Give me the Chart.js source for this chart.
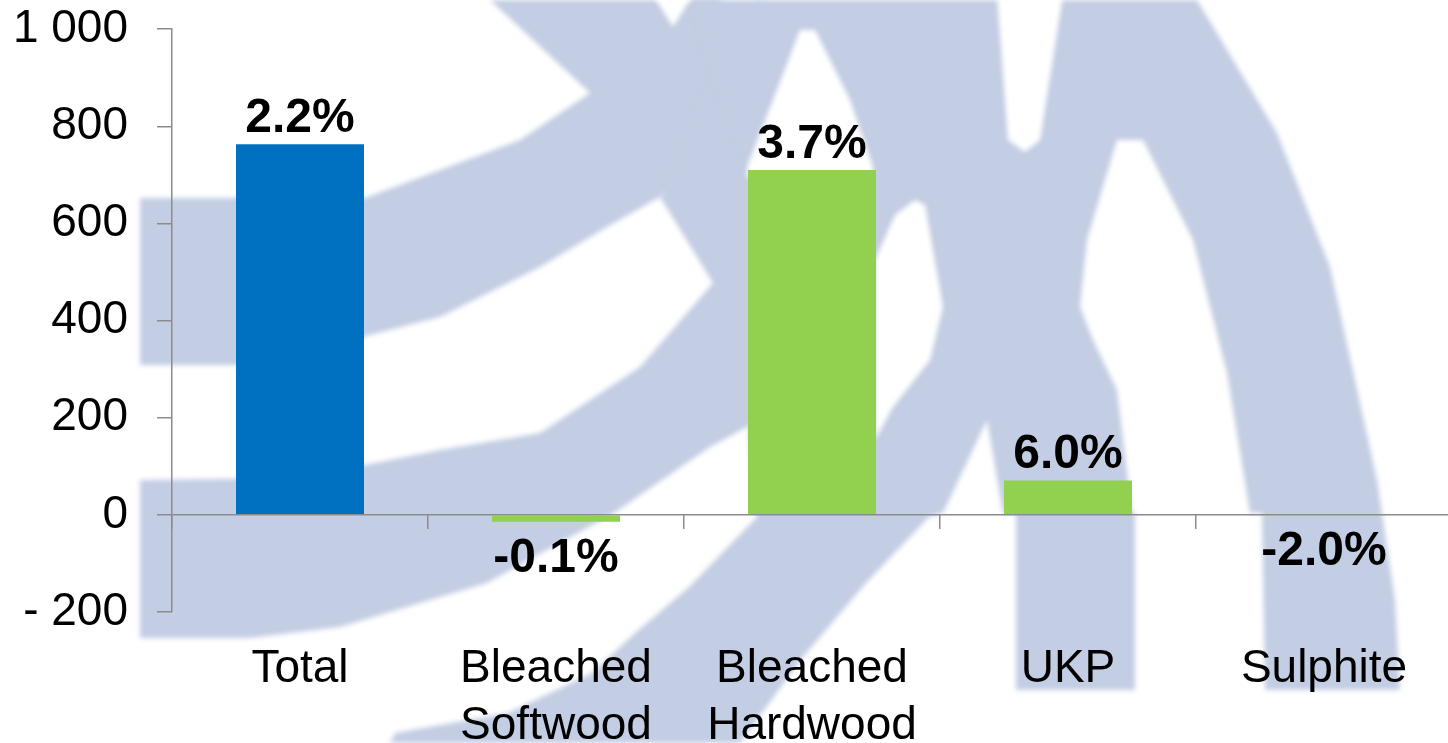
<!DOCTYPE html>
<html>
<head>
<meta charset="utf-8">
<script src="https://cdn.jsdelivr.net/npm/chart.js@4.4.1/dist/chart.umd.min.js"></script>
<style>
  html, body { margin: 0; padding: 0; background: #fff; overflow: hidden; }
  #wrap { width: 1452px; height: 743px; position: relative; }
</style>
</head>
<body>
<div id="wrap"><canvas id="chart"></canvas></div>
<script>
// Pulp demand change by grade, with growth rates on top of the bars
const categories = [['Total'], ['Bleached', 'Softwood'], ['Bleached', 'Hardwood'], ['UKP'], ['Sulphite']];
const volumes = [763, -14, 710, 71, -1];
const growthLabels = ['2.2%', '-0.1%', '3.7%', '6.0%', '-2.0%'];
const barColors = ['#0070C0', '#92D050', '#92D050', '#92D050', '#92D050'];
const yMin = -200;
const yMax = 1000;
const yStep = 200;

const FONT = '"Liberation Sans", Arial, sans-serif';
const AXIS_GREY = '#8c8c8c';

// "1 000", "- 200" style
function formatTick(v) {
    if (v === 0) return '0';
    const s = Math.abs(v).toString().replace(/\B(?=(\d{3})+(?!\d))/g, ' ');
    return v < 0 ? '- ' + s : s;
}

// faded company logo behind the chart (decoration only, canvas pixels)
const logoFill = [
    // left upper arm
    [[140,198],[365,198],[440,170],[520,140],[590,93],[490,0],[720,0],[720,150],[660,197],[607,227],[540,267],[440,317],[370,335],[260,365],[140,365]],
    // left lower arm
    [[140,480],[300,478],[440,450],[540,433],[640,367],[713,283],[660,197],[700,100],[760,0],[780,200],[760,420],[710,447],[614,513],[487,583],[340,627],[250,638],[140,638]],
    // main body, right bands and lower sweep
    [[690,0],[1197,0],[1277,133],[1330,267],[1377,480],[1395,600],[1400,690],[1265,690],[1262,513],[1250,513],
     [1227,373],[1193,240],[1143,140],[1117,140],[1087,240],[1080,307],[1093,340],[1117,390],[1132,513],[1135,513],
     [1135,690],[1016,690],[1016,513],[1003,513],[987,420],[943,513],[929,517],[866,583],[803,657],[740,743],
     [390,743],[395,733],[508,713],[592,673],[635,633],[689,587],[757,517],[749,440],[749,170],[720,100]]
];
const logoHoles = [
    [[800,30],[815,30],[850,100],[873,167],[873,178],[747,178],[747,167],[773,100]],
    [[875,440],[893,407],[930,360],[943,307],[925,205],[915,200],[895,215],[875,260]],
    [[997,-5],[1063,-5],[1040,140],[1025,152],[1008,140]],
    [[653,-5],[693,-5],[673,27]]
];

function fillPoly(ctx, pts) {
    ctx.beginPath();
    pts.forEach((p, i) => (i ? ctx.lineTo(p[0], p[1]) : ctx.moveTo(p[0], p[1])));
    ctx.closePath();
    ctx.fill();
}

const watermark = {
    id: 'watermark',
    beforeDraw(chart) {
        const ctx = chart.ctx;
        ctx.save();
        ctx.fillStyle = '#fff';
        ctx.fillRect(0, 0, chart.width, chart.height);
        ctx.filter = 'blur(2.5px)';
        ctx.fillStyle = '#c3cde3';
        logoFill.forEach(p => fillPoly(ctx, p));
        ctx.fillStyle = '#fff';
        logoHoles.forEach(p => fillPoly(ctx, p));
        ctx.restore();
    }
};

// percentage labels above / below each bar
const barLabels = {
    id: 'barLabels',
    afterDatasetsDraw(chart) {
        const ctx = chart.ctx;
        const meta = chart.getDatasetMeta(0);
        ctx.save();
        ctx.font = 'bold 48px ' + FONT;
        ctx.fillStyle = '#000';
        ctx.textAlign = 'center';
        ctx.textBaseline = 'alphabetic';
        meta.data.forEach((bar, i) => {
            const y = volumes[i] >= 0 ? bar.y - 12 : bar.y + 50;
            ctx.fillText(growthLabels[i], bar.x, y);
        });
        ctx.restore();
    }
};

const ctx = document.getElementById('chart').getContext('2d');
new Chart(ctx, {
    type: 'bar',
    data: {
        labels: categories,
        datasets: [{
            data: volumes,
            backgroundColor: barColors,
            borderWidth: 0,
            categoryPercentage: 1,
            barPercentage: 0.5
        }]
    },
    options: {
        responsive: true,
        maintainAspectRatio: false,
        animation: false,
        layout: { padding: { top: 0, right: 0, left: 0, bottom: 0 } },
        plugins: {
            legend: { display: false },
            tooltip: { enabled: false }
        },
        scales: {
            x: {
                type: 'category',
                position: 'bottom',
                offset: true,
                grid: { display: false, drawTicks: false, offset: true },
                border: { display: false },
                ticks: {
                    color: '#000',
                    padding: 29,
                    maxRotation: 0,
                    autoSkip: false,
                    font: { family: FONT, size: 46, lineHeight: 1.24 }
                },
                afterFit(scale) { scale.height = 131; }
            },
            xZero: {
                type: 'category',
                axis: 'x',
                labels: categories,
                position: { y: 0 },
                offset: true,
                grid: {
                    offset: true,
                    drawOnChartArea: false,
                    tickLength: 14,
                    tickColor: AXIS_GREY,
                    lineWidth: 1.5
                },
                border: { display: false },
                ticks: { display: false }
            },
            y: {
                min: yMin,
                max: yMax,
                border: { display: true, color: AXIS_GREY, width: 1.5 },
                grid: {
                    color: c => (c.tick && c.tick.value === 0 ? AXIS_GREY : 'rgba(0,0,0,0)'),
                    lineWidth: 1.5,
                    tickColor: AXIS_GREY,
                    tickLength: 15
                },
                ticks: {
                    stepSize: yStep,
                    color: '#000',
                    padding: 29,
                    // tiny line height so the label padding does not push the plot down
                    font: { family: FONT, size: 46, lineHeight: 0.01 },
                    callback: v => formatTick(v)
                },
                afterFit(scale) { scale.width = 172; }
            }
        }
    },
    plugins: [watermark, barLabels]
});
</script>
</body>
</html>
